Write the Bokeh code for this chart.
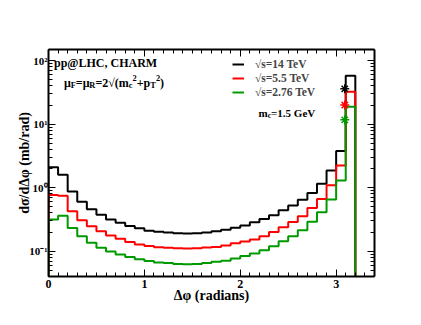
import numpy as np
from bokeh.plotting import figure
from bokeh.models import (LogAxis, LinearAxis, FixedTicker, Legend, LegendItem,
                          Label, Range1d, ColumnDataSource)
from bokeh.embed import file_html
from bokeh.resources import INLINE

# ---------------- data ----------------
bin_edges = np.linspace(0.0, 3.2, 33)  # delta-phi bins of width 0.1 rad

xsec_14TeV = [2.1, 1.6, 0.87, 0.60, 0.46, 0.375, 0.315, 0.28, 0.25, 0.23,
              0.21, 0.202, 0.197, 0.192, 0.19, 0.192, 0.198, 0.207, 0.218, 0.234,
              0.254, 0.285, 0.322, 0.367, 0.44, 0.527, 0.648, 0.825, 1.155, 1.87,
              3.8, 58.0]
xsec_5p5TeV = [0.77, 0.75, 0.425, 0.307, 0.247, 0.206, 0.177, 0.157, 0.140, 0.128,
               0.121, 0.116, 0.113, 0.111, 0.110, 0.111, 0.114, 0.117, 0.123, 0.133,
               0.142, 0.153, 0.172, 0.20, 0.238, 0.289, 0.355, 0.48, 0.665, 1.09,
               2.24, 32.5]
xsec_2p76TeV = [0.315, 0.363, 0.233, 0.172, 0.136, 0.113, 0.099, 0.089, 0.081, 0.075,
                0.070, 0.0665, 0.065, 0.063, 0.0625, 0.063, 0.065, 0.068, 0.071, 0.077,
                0.084, 0.092, 0.104, 0.12, 0.144, 0.172, 0.214, 0.29, 0.41, 0.65,
                1.30, 18.9]

star_phi = [3.09, 3.09, 3.09]
star_xsec = [36.0, 20.0, 11.7]

series_labels = ["\u221as=14 TeV", "\u221as=5.5 TeV", "\u221as=2.76 TeV"]
series_colors = ["#000000", "#ff0000", "#009900"]

x_major = [0, 1, 2, 3]
y_major = [0.1, 1, 10, 100]
y_major_labels = ["10\u207b\u00b9", "10\u2070", "10\u00b9", "10\u00b2"]
y_minor = [m * d for d in [0.01, 0.1, 1, 10] for m in range(2, 10)]

X_MIN, X_MAX = 0.0, 3.4
Y_MIN, Y_MAX = 0.04, 150.0

FONT = "Liberation Serif"

# ---------------- figure ----------------
p = figure(width=420, height=324,
           x_range=Range1d(X_MIN, X_MAX), y_range=Range1d(Y_MIN, Y_MAX),
           y_axis_type="log", output_backend="svg", toolbar_location=None,
           min_border_left=48, min_border_right=46, min_border_top=49,
           min_border_bottom=48, background_fill_color="white",
           border_fill_color="white")
p.grid.visible = False
p.outline_line_color = None


def style_axis(ax):
    ax.axis_line_width = 2
    ax.axis_line_color = "black"
    ax.major_tick_in = 7
    ax.major_tick_out = 0
    ax.minor_tick_in = 4
    ax.minor_tick_out = 0
    ax.major_tick_line_width = 1
    ax.minor_tick_line_width = 1
    ax.major_tick_line_color = "black"
    ax.minor_tick_line_color = "black"
    ax.major_label_text_font = FONT
    ax.major_label_text_font_style = "bold"
    ax.major_label_text_font_size = "12px"
    ax.major_label_text_color = "black"
    ax.major_label_standoff = 3
    ax.axis_label_text_font = FONT
    ax.axis_label_text_font_style = "bold"
    ax.axis_label_text_font_size = "14px"
    ax.axis_label_text_color = "black"
    ax.axis_label_standoff = 3


x_ticker = FixedTicker(ticks=x_major,
                       minor_ticks=[round(v, 2) for v in np.arange(0, 3.45, 0.1)])
y_ticker = FixedTicker(ticks=y_major, minor_ticks=y_minor)

xa = p.xaxis[0]
xa.ticker = x_ticker
xa.axis_label = "\u0394\u03c6 (radians)"
style_axis(xa)
xa.major_label_standoff = 3
xa.axis_label_standoff = -3

ya = p.yaxis[0]
ya.ticker = y_ticker
ya.axis_label = "d\u03c3/d\u0394\u03c6 (mb/rad)"
ya.major_label_overrides = {v: s for v, s in zip(y_major, y_major_labels)}
style_axis(ya)
ya.major_label_text_font_size = "11px"
ya.major_label_standoff = 1
ya.axis_label_standoff = -6

top = LinearAxis(ticker=x_ticker)
style_axis(top)
top.major_label_overrides = {v: "" for v in x_major}
top.major_label_standoff = 0
p.add_layout(top, "above")
right = LogAxis(ticker=y_ticker)
style_axis(right)
right.major_label_overrides = {v: "" for v in y_major}
right.major_label_standoff = 0
p.add_layout(right, "right")

# ---------------- histograms ----------------
def step_outline(values):
    xs, ys = [bin_edges[0]], [Y_MIN * 0.5]
    for i, v in enumerate(values):
        xs += [bin_edges[i], bin_edges[i + 1]]
        ys += [v, v]
    xs.append(bin_edges[-1])
    ys.append(Y_MIN * 0.5)
    return xs, ys

renderers = []
for vals, col in zip([xsec_14TeV, xsec_5p5TeV, xsec_2p76TeV], series_colors):
    xs, ys = step_outline(vals)
    r = p.line(xs, ys, line_color=col, line_width=2)
    renderers.append(r)

star_src = ColumnDataSource(dict(x=star_phi, y=star_xsec, c=series_colors))
p.scatter("x", "y", source=star_src, marker="asterisk", size=9,
          line_color="c", line_width=1.5)

legend = Legend(items=[LegendItem(label=l, renderers=[r])
                       for l, r in zip(series_labels, renderers)],
                location=(184, 177), padding=0, margin=0, spacing=0,
                glyph_width=12, glyph_height=14, label_height=14,
                label_standoff=11, background_fill_alpha=0,
                border_line_alpha=0, label_text_font=FONT,
                label_text_font_style="bold", label_text_font_size="11.5px",
                label_text_baseline="middle")
p.add_layout(legend, "center")

# ---------------- rich text annotations ----------------
W = {"\u03bc": 556, "F": 611, "=": 570, "R": 722, "2": 500, "\u221a": 549,
     "(": 333, ")": 333, "m": 833, "c": 444, "+": 570, "p": 556, "T": 667,
     " ": 250, "1": 500, ".": 250, "5": 500, "G": 778, "e": 444, "V": 722}


def rich(parts, x, y, size):
    cur = 0.0
    for text, kind in parts:
        s = size if kind == "n" else size * 0.7
        yoff = {"n": 0, "sub": -3, "sup": 5}[kind]
        p.add_layout(Label(x=x, y=y, x_offset=cur, y_offset=yoff, text=text,
                           text_font=FONT, text_font_style="bold",
                           text_font_size=f"{s:.1f}px", text_color="black",
                           text_baseline="alphabetic", text_align="left"))
        cur += sum(W.get(ch, 500) for ch in text) * s / 1000.0


p.add_layout(Label(x=0.057, y=93, text="pp@LHC, CHARM", text_font=FONT,
                   text_font_style="bold", text_font_size="12px",
                   text_baseline="alphabetic", text_color="black"))

rich([("\u03bc", "n"), ("F", "sub"), ("=\u03bc", "n"), ("R", "sub"),
      ("=2\u221a(m", "n"), ("c", "sub"), ("2", "sup"), ("+p", "n"),
      ("T", "sub"), ("2", "sup"), (")", "n")], 0.162, 45, 12)

rich([("m", "n"), ("c", "sub"), ("=1.5 GeV", "n")], 2.19, 15.1, 11)

open("out.html", "w").write(file_html(p, INLINE))
